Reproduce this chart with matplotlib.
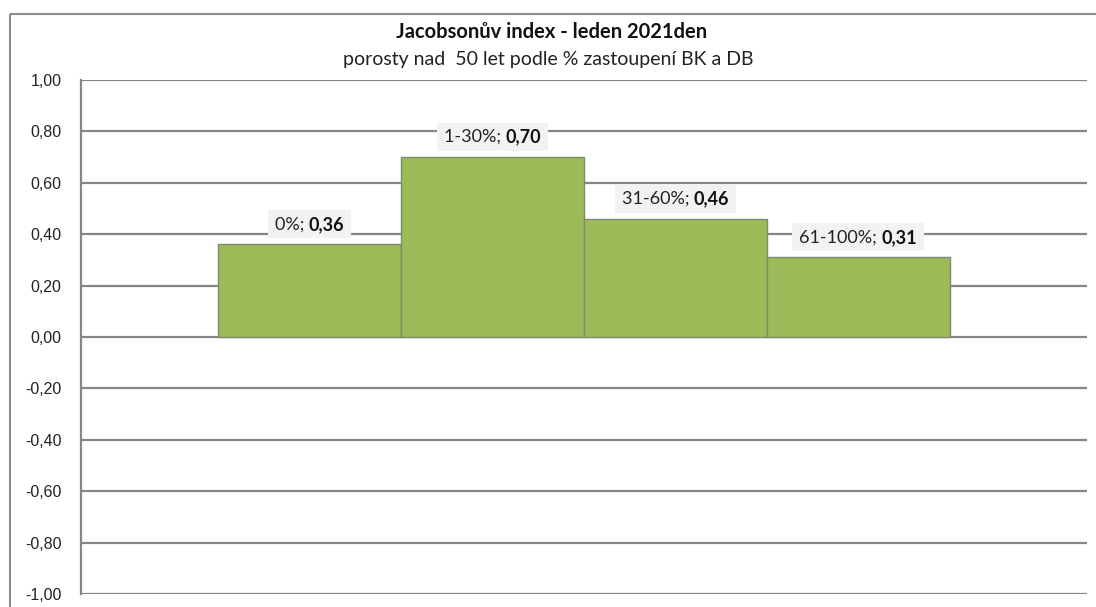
import numpy as np
import matplotlib.pyplot as plt
from matplotlib.patches import Rectangle
from matplotlib.lines import Line2D

# data
categories = ['0%', '1-30%', '31-60%', '61-100%']
values = [0.36, 0.70, 0.46, 0.31]
yticks = [1.0, 0.8, 0.6, 0.4, 0.2, 0.0, -0.2, -0.4, -0.6, -0.8, -1.0]

W, H = 1096, 607
fig = plt.figure(figsize=(W / 100, H / 100), dpi=100)
ax = fig.add_axes([81 / W, 1 - 594 / H, (1087 - 81) / W, (594 - 80) / H])

x = np.arange(len(categories))
ax.bar(x, values, width=1.0, color='#9BBB59', edgecolor='#7F8A6A', linewidth=1.0, zorder=3)

ax.set_xlim(-1.25, 4.25)
ax.set_ylim(-1.0, 1.0)
ax.set_yticks(yticks)
ax.set_yticklabels([('%.2f' % v).replace('.', ',') for v in yticks],
                   fontsize=11.5, family='Liberation Sans', color='#222222')
ax.set_xticks([])
ax.tick_params(axis='y', length=0, pad=14)
ax.grid(axis='y', color='#868686', linewidth=1.6, zorder=1)
for s in ['top', 'right', 'bottom']:
    ax.spines[s].set_visible(False)
ax.spines['left'].set_color('#868686')
ax.spines['left'].set_linewidth(1.6)

# outer chart frame (only top and left edge visible)
fy = 1 - 14 / H
fig.lines.append(Line2D([10 / W, 10 / W], [0.0, fy], transform=fig.transFigure,
                        color='#8C8C8C', linewidth=1.5, solid_capstyle='butt'))
fig.lines.append(Line2D([10 / W, 1.0], [fy, fy], transform=fig.transFigure,
                        color='#8C8C8C', linewidth=1.5, solid_capstyle='butt'))

fig.text(552 / W, 1 - 32 / H, 'Jacobsonův index - leden 2021den', ha='center', va='center',
         fontsize=14.5, fontweight='bold', family='Lato', color='#111111')
fig.text(548 / W, 1 - 59 / H, 'porosty nad  50 let podle % zastoupení BK a DB', ha='center', va='center',
         fontsize=14, family='Lato', color='#222222')

# data labels: "cat; " normal + value bold on light gray box
fig.canvas.draw()
r = fig.canvas.get_renderer()
for xi, cat, v in zip(x, categories, values):
    t1 = ax.annotate(cat + '; ', (xi, v), xytext=(0, 20), textcoords='offset pixels',
                     ha='left', va='center', fontsize=13, family='Lato', color='#222222', zorder=6)
    t2 = ax.annotate(('%.2f' % v).replace('.', ','), (xi, v), xytext=(0, 20), textcoords='offset pixels',
                     ha='left', va='center', fontsize=13, family='Lato', fontweight='bold',
                     color='#111111', zorder=6)
    w1 = t1.get_window_extent(r).width
    w2 = t2.get_window_extent(r).width
    tot = w1 + w2
    t1.set_position((-tot / 2, 20))
    t2.set_position((-tot / 2 + w1, 20))
    cx, cy = ax.transData.transform((xi, v))
    ax.add_patch(Rectangle((cx - tot / 2 - 7, cy + 20 - 14), tot + 14, 28, transform=None,
                           facecolor='#F2F2F2', edgecolor='none', zorder=5))

fig.savefig('out.png', dpi=100, facecolor='white')
